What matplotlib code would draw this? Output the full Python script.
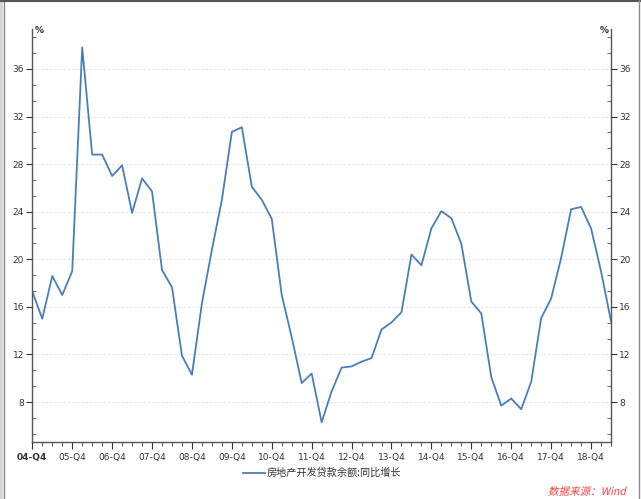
import matplotlib
matplotlib.use("Agg")
import matplotlib.pyplot as plt
from matplotlib.lines import Line2D
from matplotlib.patches import Rectangle, PathPatch
from matplotlib.textpath import TextPath
from matplotlib.font_manager import FontProperties
from matplotlib.transforms import Affine2D, IdentityTransform
from matplotlib.ticker import MultipleLocator, FixedLocator

plt.rcParams['font.family'] = ['DejaVu Sans', 'Noto Sans CJK SC']

# quarterly, 04-Q4 .. 19-Q2
values = [17.3, 15.0, 18.6, 17.0, 19.0, 37.8, 28.8, 28.8, 27.0, 27.9,
          23.9, 26.8, 25.7, 19.1, 17.65, 11.9, 10.3, 16.3, 20.8, 25.0,
          30.7, 31.1, 26.1, 25.0, 23.4, 17.0, 13.45, 9.6, 10.4, 6.3,
          8.9, 10.9, 11.0, 11.4, 11.7, 14.1, 14.7, 15.55, 20.4, 19.5,
          22.6, 24.05, 23.45, 21.3, 16.45, 15.45, 10.1, 7.7, 8.3, 7.4,
          9.7, 15.05, 16.7, 20.1, 24.2, 24.4, 22.6, 19.0, 14.8]
tick_labels = ["04-Q4", "05-Q4", "06-Q4", "07-Q4", "08-Q4", "09-Q4", "10-Q4",
               "11-Q4", "12-Q4", "13-Q4", "14-Q4", "15-Q4", "16-Q4", "17-Q4",
               "18-Q4"]
y_ticks = [8, 12, 16, 20, 24, 28, 32, 36]
series_name = "房地产开发贷款余额:同比增长"
source = "数据来源：Wind"

line_color = "#4a7ebb"
cjk = ['Noto Sans CJK SC', 'DejaVu Sans']
W, H = 641, 499

fig = plt.figure(figsize=(W / 100, H / 100), dpi=100)
ax = fig.add_axes([0.0504, 0.1148, 0.9028, 0.8265])

x = list(range(len(values)))
ax.plot(x, values, color=line_color, lw=1.3)

ax.set_xlim(0, len(values) - 1)
ax.set_ylim(4.67, 39.33)

ax.xaxis.set_major_locator(FixedLocator(range(0, len(values), 4)))
ax.xaxis.set_minor_locator(MultipleLocator(1))
ax.set_xticklabels(tick_labels)
ax.set_yticks(y_ticks)
ax.yaxis.set_minor_locator(MultipleLocator(4 / 3))

ax.tick_params(axis='x', which='major', direction='out', length=5,
               labelsize=6.5, colors='#333333', pad=3)
ax.tick_params(axis='x', which='minor', direction='out', length=3,
               color='#333333')
ax.tick_params(axis='y', which='major', direction='out', length=4,
               labelsize=6.5, colors='#333333', left=True, right=True,
               labelleft=True, labelright=True, pad=2)
ax.tick_params(axis='y', which='minor', direction='in', length=3,
               left=True, right=True, color='#555555')
ax.get_xticklabels()[0].set_fontweight('bold')

ax.spines['top'].set_visible(False)
for s in ['left', 'right', 'bottom']:
    ax.spines[s].set_color('#555555')
    ax.spines[s].set_linewidth(1.0)

ax.grid(axis='y', which='major', color='#e2e2ea', linestyle=(0, (2, 2)), lw=0.8)

ax.text(0.004, 0.997, "%", transform=ax.transAxes, fontsize=6.5,
        fontweight='bold', color='#333333', ha='left', va='center')
ax.text(0.996, 0.997, "%", transform=ax.transAxes, fontsize=6.5,
        fontweight='bold', color='#333333', ha='right', va='center')

# legend below the axes
fig.add_artist(Line2D([243 / W, 265 / W], [1 - 473 / H] * 2,
                      color=line_color, lw=1.3))
fig.text(267 / W, 1 - 473 / H, series_name, family=cjk, fontsize=7.3,
         color='#333333', ha='left', va='center')

# source note, slanted by hand because the CJK font has no italic
src_path = TextPath((0, 0), source, size=7.6,
                    prop=FontProperties(family='Noto Sans CJK SC'))
ext = src_path.get_extents()
px = 100 / 72
src_tf = (Affine2D().translate(-ext.x1, 0).skew_deg(12, 0).scale(px)
          .translate(625, H - 495))
fig.add_artist(PathPatch(src_path, transform=src_tf + IdentityTransform(),
                         color='#ff3b3b', lw=0))

# frame of the screenshot
fig.add_artist(Rectangle((0, 0), 3 / W, 1, transform=fig.transFigure,
                         color='#d6d6d6', lw=0))
fig.add_artist(Line2D([3.5 / W] * 2, [0, 1], color='#8a8a8a', lw=1.0))
fig.add_artist(Line2D([0, 1], [1 - 1 / H] * 2, color='#555555', lw=1.5))
fig.add_artist(Line2D([638.5 / W] * 2, [0, 1], color='#8a8a8a', lw=1.0))

fig.savefig("out.png", dpi=100)
